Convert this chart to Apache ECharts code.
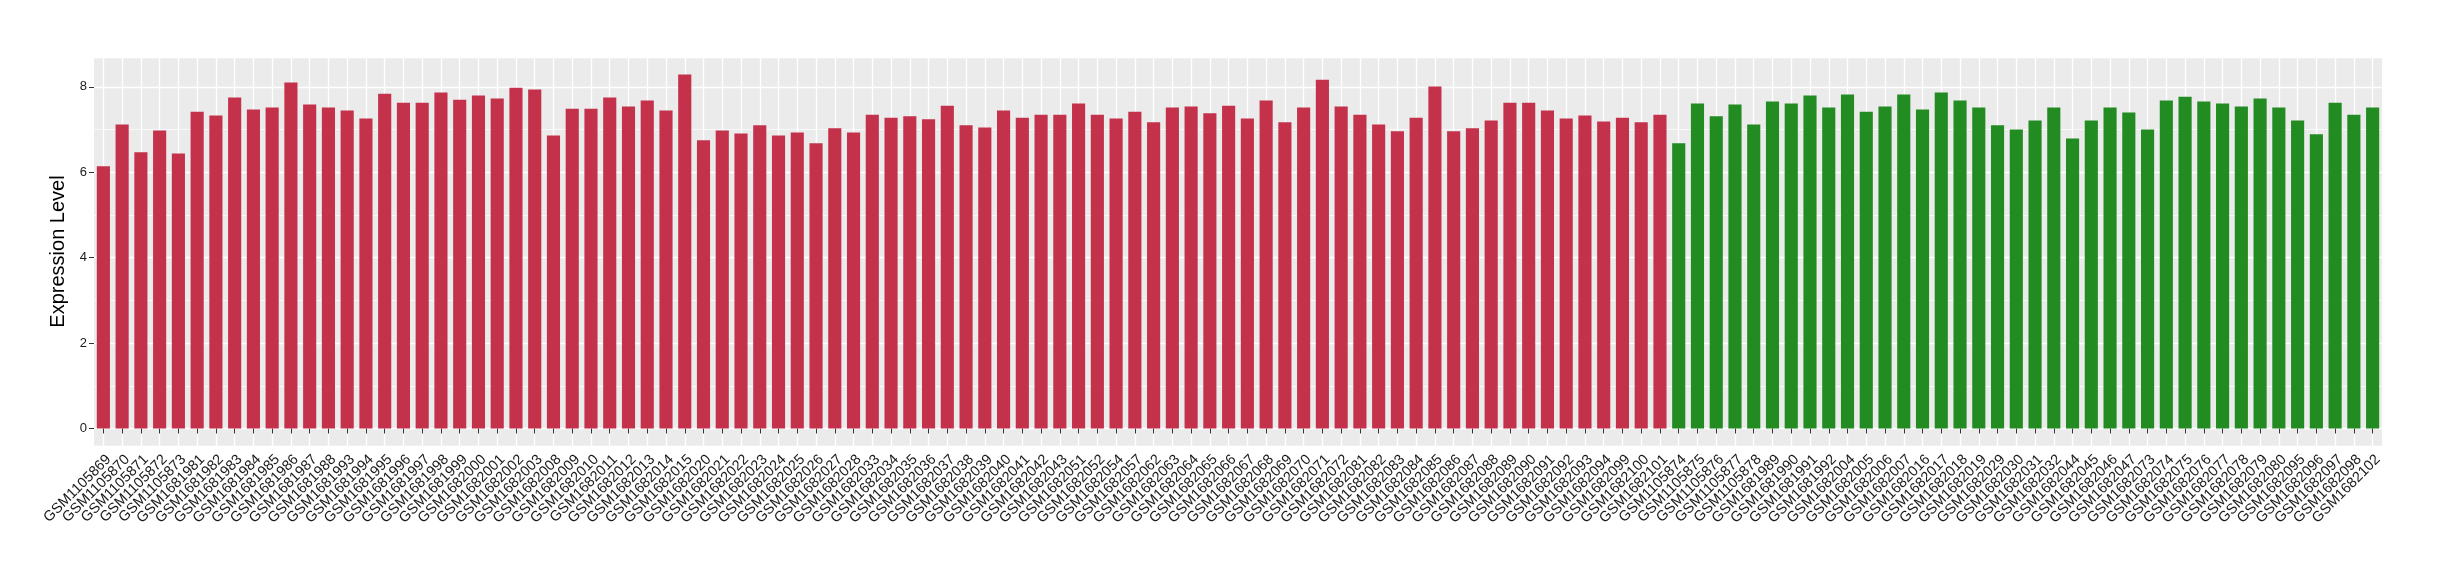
<!DOCTYPE html>
<html><head><meta charset="utf-8">
<script src="https://cdn.jsdelivr.net/npm/echarts@6/dist/echarts.min.js"></script>
<style>html,body{margin:0;padding:0;background:#fff}#chart{width:2440px;height:580px}</style>
</head><body><div id="chart"></div>
<script>
const redSamples = ['GSM1105869','GSM1105870','GSM1105871','GSM1105872','GSM1105873','GSM1681981','GSM1681982','GSM1681983','GSM1681984','GSM1681985','GSM1681986','GSM1681987','GSM1681988','GSM1681993','GSM1681994','GSM1681995','GSM1681996','GSM1681997','GSM1681998','GSM1681999','GSM1682000','GSM1682001','GSM1682002','GSM1682003','GSM1682008','GSM1682009','GSM1682010','GSM1682011','GSM1682012','GSM1682013','GSM1682014','GSM1682015','GSM1682020','GSM1682021','GSM1682022','GSM1682023','GSM1682024','GSM1682025','GSM1682026','GSM1682027','GSM1682028','GSM1682033','GSM1682034','GSM1682035','GSM1682036','GSM1682037','GSM1682038','GSM1682039','GSM1682040','GSM1682041','GSM1682042','GSM1682043','GSM1682051','GSM1682052','GSM1682054','GSM1682057','GSM1682062','GSM1682063','GSM1682064','GSM1682065','GSM1682066','GSM1682067','GSM1682068','GSM1682069','GSM1682070','GSM1682071','GSM1682072','GSM1682081','GSM1682082','GSM1682083','GSM1682084','GSM1682085','GSM1682086','GSM1682087','GSM1682088','GSM1682089','GSM1682090','GSM1682091','GSM1682092','GSM1682093','GSM1682094','GSM1682099','GSM1682100','GSM1682101'];
const greenSamples = ['GSM1105874','GSM1105875','GSM1105876','GSM1105877','GSM1105878','GSM1681989','GSM1681990','GSM1681991','GSM1681992','GSM1682004','GSM1682005','GSM1682006','GSM1682007','GSM1682016','GSM1682017','GSM1682018','GSM1682019','GSM1682029','GSM1682030','GSM1682031','GSM1682032','GSM1682044','GSM1682045','GSM1682046','GSM1682047','GSM1682073','GSM1682074','GSM1682075','GSM1682076','GSM1682077','GSM1682078','GSM1682079','GSM1682080','GSM1682095','GSM1682096','GSM1682097','GSM1682098','GSM1682102'];
const redValues = [6.14,7.12,6.47,6.98,6.44,7.42,7.33,7.75,7.47,7.52,8.10,7.59,7.52,7.45,7.26,7.84,7.63,7.63,7.87,7.70,7.80,7.73,7.98,7.94,6.86,7.49,7.49,7.75,7.54,7.68,7.45,8.29,6.75,6.98,6.91,7.10,6.86,6.93,6.68,7.03,6.93,7.35,7.28,7.31,7.24,7.56,7.10,7.05,7.45,7.28,7.35,7.35,7.61,7.35,7.26,7.42,7.17,7.52,7.54,7.38,7.56,7.26,7.68,7.17,7.52,8.17,7.54,7.35,7.12,6.96,7.28,8.01,6.96,7.03,7.21,7.63,7.63,7.45,7.26,7.33,7.19,7.28,7.17,7.35];
const greenValues = [6.68,7.61,7.31,7.59,7.12,7.66,7.61,7.80,7.52,7.82,7.42,7.54,7.82,7.47,7.87,7.68,7.52,7.10,7.00,7.21,7.52,6.79,7.21,7.52,7.40,7.00,7.68,7.77,7.66,7.61,7.54,7.73,7.52,7.21,6.89,7.63,7.35,7.52];
const yMin = -0.41;
const yMax = 8.70;

const categories = redSamples.concat(greenSamples);
const redData = redValues.concat(greenSamples.map(() => '-'));
const greenData = redSamples.map(() => '-').concat(greenValues);
const font = "'Liberation Sans', Arial, Helvetica, sans-serif";

const chart = echarts.init(document.getElementById('chart'), null, {renderer: 'canvas'});
chart.setOption({
  animation: false,
  backgroundColor: '#ffffff',
  grid: {left: 94, right: 58, top: 57, bottom: 134, show: true, backgroundColor: '#EBEBEB', borderWidth: 0},
  xAxis: {
    type: 'category', data: categories, boundaryGap: true,
    axisLine: {show: false},
    axisTick: {show: true, alignWithLabel: true, length: 5, lineStyle: {color: '#333333', width: 1}},
    splitLine: {show: true, alignWithLabel: true, interval: 0, lineStyle: {color: '#ffffff', width: 1.3}},
    axisLabel: {interval: 0, rotate: 45, align: 'right', verticalAlign: 'top', margin: 6,
      fontSize: 14.5, color: '#1a1a1a', fontFamily: font}
  },
  yAxis: [{
    type: 'value', min: yMin, max: yMax, minInterval: 2, maxInterval: 2,
    name: 'Expression Level', nameLocation: 'middle', nameRotate: 90, nameGap: 14,
    nameTextStyle: {fontSize: 20, color: '#000000', fontFamily: font},
    axisLine: {show: false},
    axisTick: {show: true, length: 5, lineStyle: {color: '#333333', width: 1}},
    axisLabel: {show: true, margin: 7, fontSize: 13, color: '#1a1a1a', fontFamily: font,
      showMinLabel: false, showMaxLabel: false},
    splitLine: {show: true, lineStyle: {color: '#ffffff', width: 1.3}}
  }, {
    type: 'value', min: yMin, max: yMax, minInterval: 1, maxInterval: 1, position: 'left',
    axisLine: {show: false}, axisTick: {show: false}, axisLabel: {show: false},
    splitLine: {show: true, lineStyle: {color: '#ffffff', width: 0.7}}
  }],
  series: [{
    name: 'Group 1', type: 'bar', data: redData, yAxisIndex: 0,
    barWidth: '70%', barGap: '-100%', itemStyle: {color: '#C3314A'}
  }, {
    name: 'Group 2', type: 'bar', data: greenData, yAxisIndex: 0,
    barWidth: '70%', barGap: '-100%', itemStyle: {color: '#228B22'}
  }]
});
</script></body></html>
